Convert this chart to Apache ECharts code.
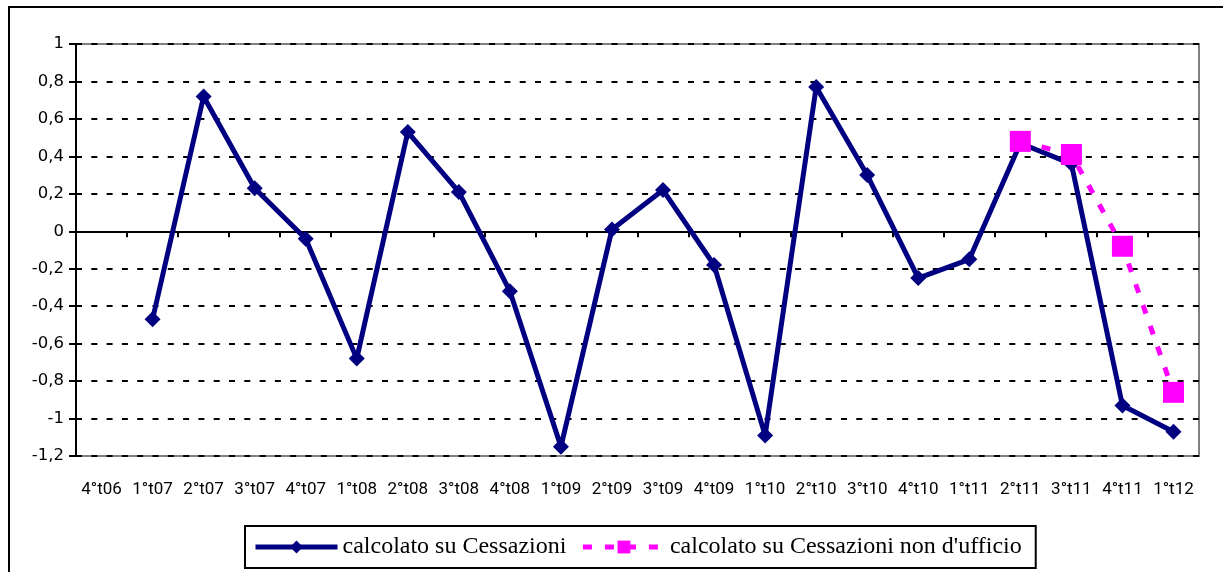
<!DOCTYPE html>
<html lang="it">
  <head>
    <meta charset="UTF-8" />
    <title>Cessazioni</title>
    <script src="https://cdn.jsdelivr.net/npm/echarts@6/dist/echarts.min.js"></script>
    <style>
      html, body { margin: 0; padding: 0; background: #fff; }
      #main { width: 1223px; height: 572px; }
    </style>
  </head>
  <body>
    <div id="main"></div>
    <script type="text/javascript">
      // dati del grafico
      var categories = ["4°t06", "1°t07", "2°t07", "3°t07", "4°t07", "1°t08", "2°t08", "3°t08",
        "4°t08", "1°t09", "2°t09", "3°t09", "4°t09", "1°t10", "2°t10", "3°t10", "4°t10",
        "1°t11", "2°t11", "3°t11", "4°t11", "1°t12"];
      var cessazioni = [null, -0.47, 0.72, 0.23, -0.04, -0.68, 0.53, 0.21, -0.32, -1.15, 0.01,
        0.22, -0.18, -1.09, 0.77, 0.30, -0.25, -0.15, 0.47, 0.36, -0.93, -1.07];
      var nonUfficio = [null, null, null, null, null, null, null, null, null, null, null,
        null, null, null, null, null, null, null, 0.48, 0.41, -0.08, -0.86];
      var yMin = -1.2, yMax = 1, yStep = 0.2;

      var myChart = echarts.init(document.getElementById("main"));

      var option = {
        animation: false,
        backgroundColor: "#fff",
        graphic: [{
          type: "rect",
          shape: { x: 9, y: 7, width: 1240, height: 600 },
          style: { fill: "none", stroke: "#000", lineWidth: 2 },
          z: -1
        }],
        grid: {
          left: 76, right: 24, top: 44, bottom: 116,
          show: true, borderColor: "#808080", borderWidth: 2
        },
        legend: {
          left: 245, top: 526,
          padding: [9, 14, 9, 8],
          borderColor: "#000", borderWidth: 2,
          itemWidth: 82, itemHeight: 16, itemGap: 14,
          lineStyle: { width: 5 },
          textStyle: { fontFamily: "Liberation Serif", fontSize: 24, color: "#000" },
          data: ["calcolato su Cessazioni", "calcolato su Cessazioni non d'ufficio"]
        },
        xAxis: [{
          type: "category",
          data: categories,
          axisLine: { onZero: true, lineStyle: { color: "#000", width: 2 } },
          axisTick: { show: true, length: 6, lineStyle: { color: "#000", width: 2 } },
          axisLabel: { show: false },
          splitLine: { show: false }
        }, {
          type: "category",
          data: categories,
          position: "bottom",
          axisLine: { show: false, onZero: false },
          axisTick: { show: false },
          axisLabel: { interval: 0, margin: 25, fontFamily: "Roboto", fontSize: 17, color: "#000" }
        }],
        yAxis: {
          type: "value",
          min: yMin, max: yMax, interval: yStep,
          axisLine: { show: true, lineStyle: { color: "#000", width: 2 } },
          axisTick: { show: true, length: 7, lineStyle: { color: "#000", width: 2 } },
          axisLabel: {
            margin: 12, fontFamily: "DejaVu Sans", fontSize: 16.5, color: "#000",
            formatter: function (v) { return String(+v.toFixed(1)).replace(".", ","); }
          },
          splitLine: { show: true, lineStyle: { color: "#000", width: 2, type: [6, 9.3] } }
        },
        series: [{
          name: "calcolato su Cessazioni",
          type: "line",
          data: cessazioni,
          color: "#000080",
          symbol: "diamond", symbolSize: 16,
          lineStyle: { color: "#000080", width: 5 },
          itemStyle: { color: "#000080" },
          z: 3
        }, {
          name: "calcolato su Cessazioni non d'ufficio",
          type: "line",
          data: nonUfficio,
          color: "#ff00ff",
          symbol: "rect", symbolSize: 21,
          lineStyle: { color: "#ff00ff", width: 5, type: [9, 13] },
          itemStyle: { color: "#ff00ff" },
          z: 4
        }]
      };
      myChart.setOption(option);
    </script>
  </body>
</html>
